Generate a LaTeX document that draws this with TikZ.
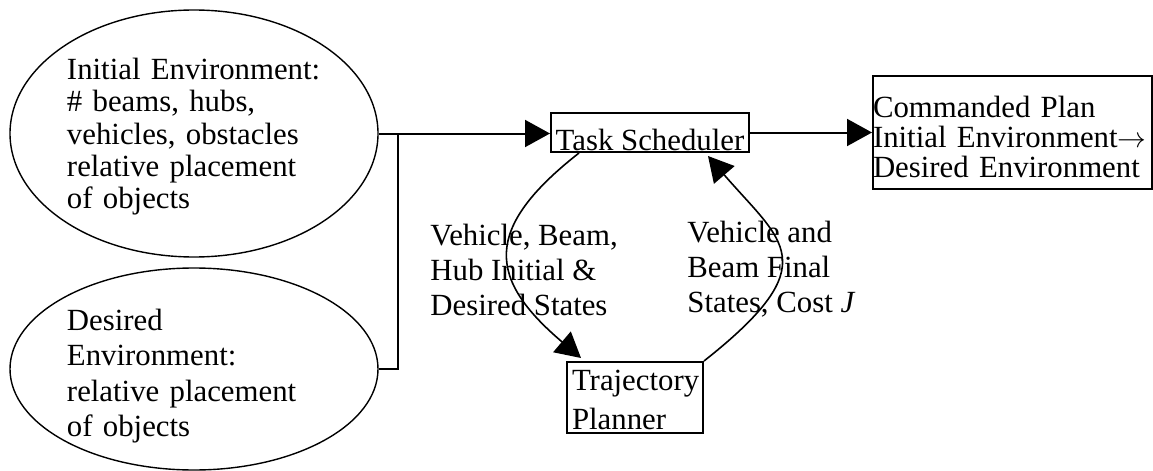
\documentclass[tikz,border=0pt]{standalone}
\usepackage{fontspec}
\setmainfont{Liberation Serif}
\usetikzlibrary{arrows.meta,shapes.geometric,calc}

\begin{document}
\begin{tikzpicture}[x=0.5pt,y=-0.5pt,
    env/.style={draw,ellipse,line width=0.7pt,inner sep=0pt,minimum width=184pt,text width=127pt,align=left},
    box/.style={draw,rectangle,line width=1pt},
    lbl/.style={align=left,inner sep=0pt,anchor=north west},
    flow/.style={line width=1pt,-{Triangle[length=12.5pt,width=13.5pt]}}]
  \useasboundingbox (0,0) rectangle (1153,471);
  % environments going in
  \node[env,minimum height=123.5pt,text height=10pt,text depth=64.5pt,font=\fontsize{15.4}{16.25}\selectfont] (initenv) at (194,133.5)
    {Initial Environment:\\ \# beams, hubs,\\ vehicles, obstacles\\ relative placement\\ of objects};
  \node[env,minimum height=101pt,text height=10pt,text depth=49pt,font=\fontsize{15.4}{17.8}\selectfont] (desenv) at (194,369)
    {Desired\\ Environment:\\ relative placement\\ of objects};
  % the two planners
  \node[box,minimum width=99pt,inner xsep=1pt,inner ysep=1pt,text height=17.5pt,text depth=0pt,font=\fontsize{15.4}{15}\selectfont] (sched) at (650,132.5) {Task Scheduler};
  \node[box,text width=63pt,inner xsep=2.5pt,inner ysep=0pt,minimum height=35.5pt,align=left,text height=10pt,text depth=17.5pt,font=\fontsize{15.4}{19.5}\selectfont] (traj) at (635,397.5)
    {Trajectory\\ Planner};
  \node[box,text width=139.5pt,inner xsep=0pt,inner ysep=0pt,minimum height=56.5pt,align=left,text height=15.2pt,text depth=30pt,font=\fontsize{15.4}{15}\selectfont] (cmd) at (1012.5,132.5)
    {Commanded Plan\\ Initial Environment$\rightarrow$\\ Desired Environment};
  % what goes back and forth
  \node[lbl,font=\fontsize{15.4}{17.5}\selectfont] (sendlbl) at (430,224) {Vehicle, Beam,\\ Hub Initial \&\\ Desired States};
  \node[lbl,font=\fontsize{15.4}{17.5}\selectfont] (retlbl) at (687,221) {Vehicle and\\ Beam Final\\ States, Cost \textit{J}};
  % connectors
  \coordinate (join) at ($(initenv.east)+(19,0)$);
  \draw[flow] (initenv.east) -- (initenv.east -| sched.west);
  \draw[line width=1pt] (desenv.east) -| (join);
  \draw[flow] (sched.east) -- (cmd.west);
  \draw[flow,line width=0.8pt] ($(sched.south west)+(29,0)$) .. controls (482,229) and (488,279) .. ($(traj.north west)+(15,-3)$);
  \draw[flow,line width=0.8pt] (traj.north east) .. controls (828,263) and (782,242) .. ($(sched.south east)+(-42,3)$);
\end{tikzpicture}
\end{document}
